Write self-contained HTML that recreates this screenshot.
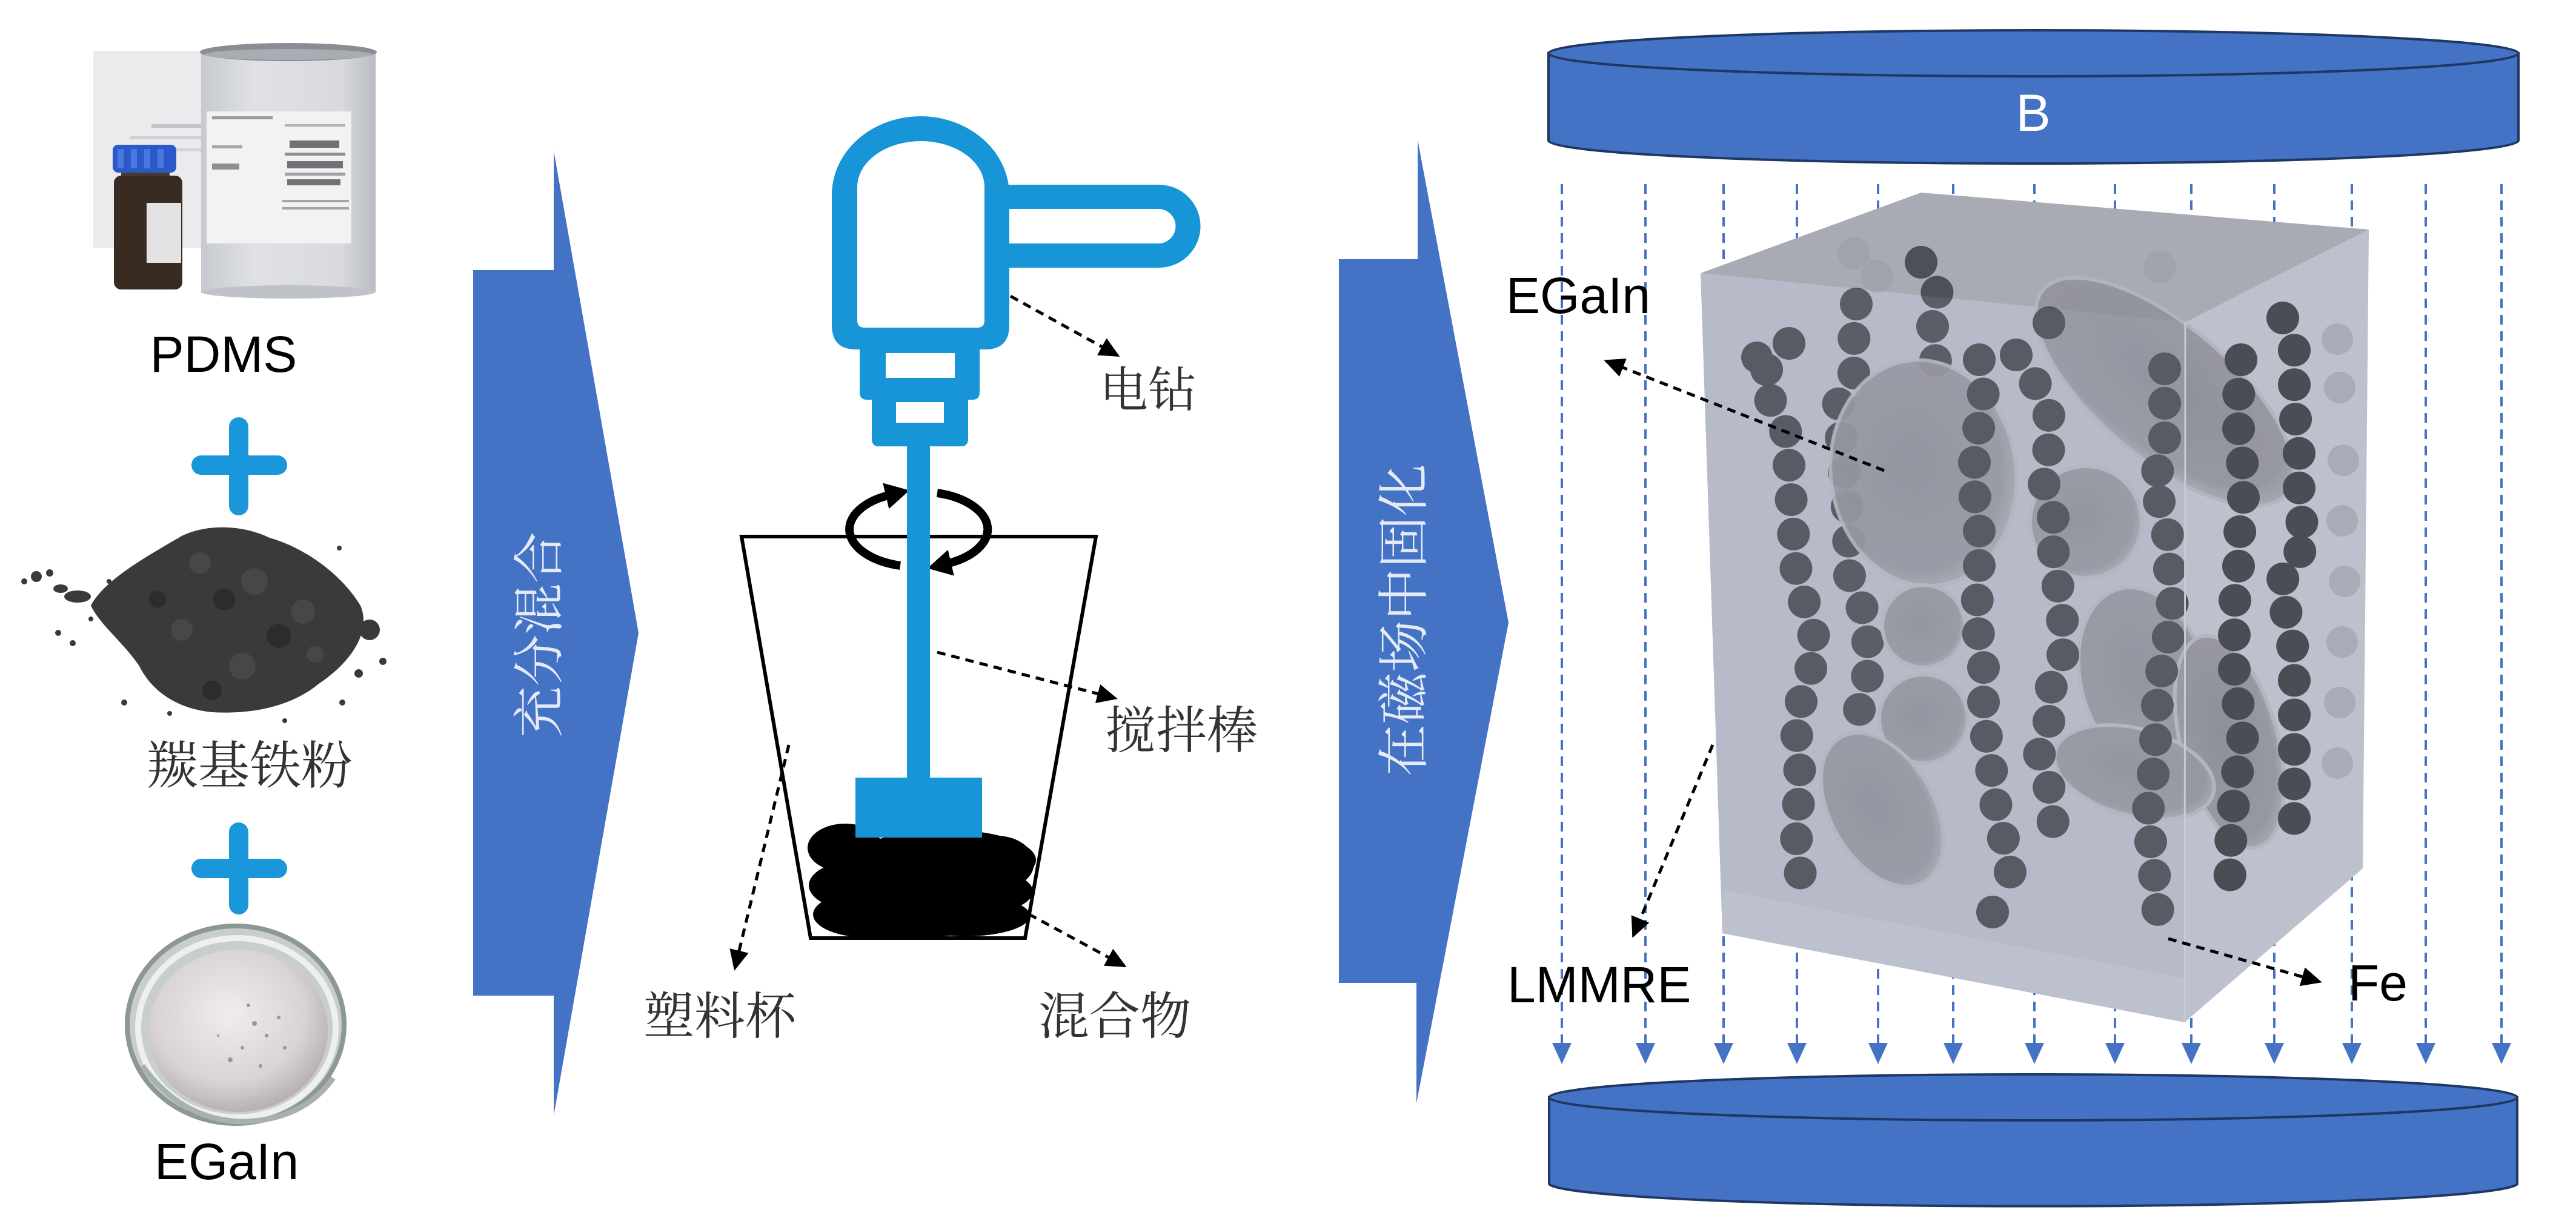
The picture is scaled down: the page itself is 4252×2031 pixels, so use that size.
<!DOCTYPE html>
<html>
<head>
<meta charset="utf-8">
<style>
html,body{margin:0;padding:0;background:#fff;}
svg{display:block;}
</style>
</head>
<body>
<svg xmlns="http://www.w3.org/2000/svg" width="4252" height="2031" viewBox="0 0 4252 2031">
<defs>
  <marker id="ah" markerUnits="userSpaceOnUse" markerWidth="34" markerHeight="32" refX="30" refY="16" orient="auto">
    <path d="M0,0 L34,16 L0,32 Z" fill="#000"/>
  </marker>
  <marker id="rot" markerUnits="userSpaceOnUse" markerWidth="44" markerHeight="44" refX="8" refY="22" orient="auto">
    <path d="M0,0 L40,22 L0,44 Z" fill="#000"/>
  </marker>
  <linearGradient id="canG" x1="0" x2="1" y1="0" y2="0">
    <stop offset="0" stop-color="#c6c9ce"/>
    <stop offset="0.3" stop-color="#dfe1e4"/>
    <stop offset="0.8" stop-color="#d8dadd"/>
    <stop offset="1" stop-color="#b9bcc1"/>
  </linearGradient>
  <radialGradient id="dishG" cx="0.45" cy="0.4" r="0.6">
    <stop offset="0" stop-color="#f1ecef"/>
    <stop offset="0.7" stop-color="#d9d2d6"/>
    <stop offset="1" stop-color="#b7b0b4"/>
  </radialGradient>
  <radialGradient id="elG" cx="0.45" cy="0.45" r="0.6">
    <stop offset="0" stop-color="#8a8c94"/>
    <stop offset="0.8" stop-color="#93959d"/>
    <stop offset="1" stop-color="#adafb7"/>
  </radialGradient>
  <clipPath id="cubeClip">
    <polygon points="2807,451 3171,318 3910,379 3900,1434 3606,1688 2843,1541"/>
  </clipPath>
</defs>

<!-- ================= LEFT PANEL ================= -->
<rect x="154" y="84" width="350" height="325" fill="#ebebed"/>
<rect x="250" y="205" width="90" height="6" fill="#c4c5c8"/>
<rect x="215" y="225" width="125" height="5" fill="#cfd0d3"/>
<rect x="210" y="245" width="130" height="5" fill="#d2d3d6"/>
<rect x="332" y="88" width="288" height="394" fill="url(#canG)"/>
<ellipse cx="476" cy="482" rx="144" ry="11" fill="#bfc2c7"/>
<ellipse cx="476" cy="86" rx="146" ry="15" fill="#8a8e94"/>
<ellipse cx="476" cy="90" rx="138" ry="9" fill="#a9adb3"/>
<rect x="341" y="184" width="239" height="218" fill="#f2f2f3"/>
<rect x="350" y="192" width="100" height="5" fill="#9a9ca0"/>
<rect x="470" y="205" width="100" height="4" fill="#b0b2b6"/>
<rect x="478" y="232" width="82" height="12" fill="#6f7175"/>
<rect x="470" y="252" width="100" height="5" fill="#8e9094"/>
<rect x="474" y="266" width="92" height="12" fill="#6f7175"/>
<rect x="470" y="285" width="100" height="5" fill="#9ea0a4"/>
<rect x="474" y="296" width="88" height="10" fill="#6f7175"/>
<rect x="466" y="330" width="110" height="4" fill="#a3a5a9"/>
<rect x="466" y="342" width="110" height="4" fill="#a3a5a9"/>
<rect x="350" y="240" width="50" height="5" fill="#a3a5a9"/>
<rect x="350" y="270" width="45" height="10" fill="#8d8f93"/>
<rect x="200" y="278" width="80" height="22" fill="#4a3a30"/>
<rect x="188" y="290" width="113" height="188" rx="12" fill="#3a2b22"/>
<rect x="242" y="335" width="57" height="99" fill="#e2e2e2"/>
<rect x="186" y="239" width="105" height="46" rx="9" fill="#2b59c9"/>
<rect x="194" y="246" width="10" height="32" fill="#4a78e0"/>
<rect x="216" y="246" width="10" height="32" fill="#4a78e0"/>
<rect x="238" y="246" width="10" height="32" fill="#4a78e0"/>
<rect x="260" y="246" width="10" height="32" fill="#4a78e0"/>
<text x="369" y="614" font-family="Liberation Sans, Arial, sans-serif" font-size="84" text-anchor="middle" fill="#000">PDMS</text>

<g stroke="#1a96da" stroke-width="32" stroke-linecap="round">
  <line x1="332" y1="768" x2="458" y2="768"/>
  <line x1="394" y1="705" x2="394" y2="835"/>
</g>

<!-- powder -->
<path d="M300 885 C340 865 400 866 445 888 C505 905 565 950 595 1000 C612 1040 585 1090 525 1130 C482 1165 420 1180 350 1176 C290 1170 250 1140 230 1100 C205 1062 165 1032 150 1000 C172 958 240 920 300 885 Z" fill="#3a3a3a"/>
<g fill="#474747">
  <circle cx="330" cy="930" r="18"/><circle cx="420" cy="960" r="22"/><circle cx="500" cy="1010" r="20"/>
  <circle cx="300" cy="1040" r="18"/><circle cx="400" cy="1100" r="22"/><circle cx="520" cy="1080" r="14"/>
</g>
<g fill="#2c2c2c">
  <circle cx="370" cy="990" r="18"/><circle cx="460" cy="1050" r="20"/><circle cx="260" cy="990" r="14"/><circle cx="350" cy="1140" r="16"/>
</g>
<g fill="#3a3a3a">
  <ellipse cx="128" cy="985" rx="22" ry="10"/><ellipse cx="100" cy="972" rx="12" ry="7"/>
  <circle cx="60" cy="952" r="9"/><circle cx="82" cy="946" r="6"/><circle cx="610" cy="1040" r="17"/>
  <circle cx="120" cy="1062" r="5"/><circle cx="592" cy="1112" r="7"/><circle cx="205" cy="1160" r="5"/>
  <circle cx="565" cy="1160" r="5"/><circle cx="150" cy="1022" r="4"/><circle cx="632" cy="1092" r="6"/>
  <circle cx="96" cy="1045" r="5"/><circle cx="280" cy="1178" r="4"/><circle cx="470" cy="1190" r="4"/>
  <circle cx="180" cy="960" r="4"/><circle cx="560" cy="905" r="4"/><circle cx="40" cy="960" r="5"/>
</g>
<text x="412" y="1266" font-family="Liberation Serif, 'Noto Serif CJK SC', serif" font-size="85" text-anchor="middle" dominant-baseline="central" fill="#333">羰基铁粉</text>

<g stroke="#1a96da" stroke-width="32" stroke-linecap="round">
  <line x1="332" y1="1434" x2="458" y2="1434"/>
  <line x1="394" y1="1374" x2="394" y2="1494"/>
</g>

<ellipse cx="389" cy="1692" rx="179" ry="163" fill="#c8cecb" stroke="#8c9893" stroke-width="8"/>
<ellipse cx="391" cy="1697" rx="163" ry="148" fill="none" stroke="#eef0ef" stroke-width="10"/>
<ellipse cx="393" cy="1702" rx="148" ry="134" fill="url(#dishG)"/>
<path d="M235 1760 Q300 1850 400 1852 Q500 1850 550 1780" fill="none" stroke="#a9b1ad" stroke-width="9"/>
<g fill="#8a8486" opacity="0.8">
  <circle cx="420" cy="1690" r="4"/><circle cx="440" cy="1710" r="3"/><circle cx="400" cy="1730" r="3"/>
  <circle cx="460" cy="1680" r="3"/><circle cx="380" cy="1750" r="4"/><circle cx="430" cy="1760" r="3"/>
  <circle cx="470" cy="1730" r="3"/><circle cx="360" cy="1710" r="2"/><circle cx="410" cy="1660" r="3"/>
</g>
<text x="374" y="1947" font-family="Liberation Sans, Arial, sans-serif" font-size="84" text-anchor="middle" fill="#000">EGaIn</text>

<!-- ================= ARROW 1 ================= -->
<polygon points="781,446 914,446 914,249 1054,1045 914,1842 914,1644 781,1644" fill="#4472c4"/>
<text x="892" y="1048" transform="rotate(-90 892 1048)" font-family="Liberation Serif, 'Noto Serif CJK SC', serif" font-size="85" text-anchor="middle" dominant-baseline="central" fill="#e4eaf6">充分混合</text>

<!-- ================= DRILL PANEL ================= -->
<polygon points="1224,886 1809,886 1692,1549 1338,1549" fill="none" stroke="#000" stroke-width="6"/>
<g fill="#000">
  <ellipse cx="1395" cy="1400" rx="62" ry="40"/>
  <ellipse cx="1560" cy="1420" rx="150" ry="50"/>
  <ellipse cx="1645" cy="1425" rx="62" ry="45"/>
  <ellipse cx="1420" cy="1462" rx="85" ry="42"/>
  <ellipse cx="1565" cy="1472" rx="140" ry="45"/>
  <ellipse cx="1432" cy="1510" rx="90" ry="38"/>
  <ellipse cx="1595" cy="1512" rx="105" ry="34"/>
  <ellipse cx="1500" cy="1528" rx="130" ry="20"/>
</g>
<path d="M1486,934 A112,62 0 0 1 1470,817" fill="none" stroke="#000" stroke-width="14" marker-end="url(#rot)"/>
<path d="M1547,814 A112,62 0 0 1 1562,931" fill="none" stroke="#000" stroke-width="14" marker-end="url(#rot)"/>
<g fill="#1795d6">
  <path d="M1373,322 A146.5,130 0 0 1 1666,322 L1666,537 Q1666,577 1626,577 L1413,577 Q1373,577 1373,537 Z"/>
  <path d="M1640,305 L1913,305 A68.5,68.5 0 0 1 1913,442 L1640,442 Z"/>
  <path d="M1419,560 L1617,560 L1617,648 Q1617,660 1605,660 L1431,660 Q1419,660 1419,648 Z"/>
  <path d="M1439,650 L1598,650 L1598,725 Q1598,737 1586,737 L1451,737 Q1439,737 1439,725 Z"/>
  <rect x="1497" y="730" width="38" height="560"/>
  <rect x="1412" y="1284" width="209" height="99"/>
</g>
<g fill="#fff">
  <path d="M1415,309 A105,76 0 0 1 1625,309 L1625,529 Q1625,541 1613,541 L1427,541 Q1415,541 1415,529 Z"/>
  <path d="M1666,345 L1912,345 A28.5,28.5 0 0 1 1912,402 L1666,402 Z"/>
  <rect x="1462" y="583" width="114" height="41"/>
  <rect x="1479" y="664" width="79" height="34"/>
</g>

<g stroke="#000" stroke-width="5" stroke-dasharray="14 10" fill="none" marker-end="url(#ah)">
  <line x1="1668" y1="489" x2="1845" y2="587"/>
  <line x1="1547" y1="1077" x2="1841" y2="1153"/>
  <line x1="1302" y1="1230" x2="1213" y2="1599"/>
  <line x1="1677" y1="1498" x2="1856" y2="1595"/>
</g>
<g font-family="Liberation Serif, 'Noto Serif CJK SC', serif" font-size="84" text-anchor="middle" dominant-baseline="central" fill="#333">
  <text x="1895" y="646" font-size="80">电钻</text>
  <text x="1950" y="1208">搅拌棒</text>
  <text x="1188" y="1680">塑料杯</text>
  <text x="1840" y="1680">混合物</text>
</g>

<!-- ================= ARROW 2 ================= -->
<polygon points="2210,428 2340,428 2340,231 2490,1028 2338,1822 2338,1623 2210,1623" fill="#4472c4"/>
<text x="2318" y="1024" transform="rotate(-90 2318 1024)" font-family="Liberation Serif, 'Noto Serif CJK SC', serif" font-size="86" text-anchor="middle" dominant-baseline="central" fill="#e4eaf6">在磁场中固化</text>

<!-- ================= RIGHT PANEL ================= -->
<path d="M2556,88 L2556,232 A800.5,38 0 0 0 4157,232 L4157,88 Z" fill="#4472c4" stroke="#1f3763" stroke-width="4"/>
<ellipse cx="3356.5" cy="88" rx="800.5" ry="38" fill="#4472c4" stroke="#1f3763" stroke-width="4"/>
<text x="3356" y="216" font-family="Liberation Sans, Arial, sans-serif" font-size="86" text-anchor="middle" fill="#fff">B</text>

<g stroke="#4472c4" stroke-width="4" stroke-dasharray="16 11">
  <line x1="2578" y1="304" x2="2578" y2="1724"/>
  <line x1="2716" y1="304" x2="2716" y2="1724"/>
  <line x1="2845" y1="304" x2="2845" y2="1724"/>
  <line x1="2966" y1="304" x2="2966" y2="1724"/>
  <line x1="3100" y1="304" x2="3100" y2="1724"/>
  <line x1="3224" y1="304" x2="3224" y2="1724"/>
  <line x1="3358" y1="304" x2="3358" y2="1724"/>
  <line x1="3491" y1="304" x2="3491" y2="1724"/>
  <line x1="3617" y1="304" x2="3617" y2="1724"/>
  <line x1="3754" y1="304" x2="3754" y2="1724"/>
  <line x1="3882" y1="304" x2="3882" y2="1724"/>
  <line x1="4004" y1="304" x2="4004" y2="1724"/>
  <line x1="4129" y1="304" x2="4129" y2="1724"/>
</g>
<g fill="#4472c4">
  <polygon points="2562,1722 2594,1722 2578,1757"/>
  <polygon points="2700,1722 2732,1722 2716,1757"/>
  <polygon points="2829,1722 2861,1722 2845,1757"/>
  <polygon points="2950,1722 2982,1722 2966,1757"/>
  <polygon points="3084,1722 3116,1722 3100,1757"/>
  <polygon points="3208,1722 3240,1722 3224,1757"/>
  <polygon points="3342,1722 3374,1722 3358,1757"/>
  <polygon points="3475,1722 3507,1722 3491,1757"/>
  <polygon points="3601,1722 3633,1722 3617,1757"/>
  <polygon points="3738,1722 3770,1722 3754,1757"/>
  <polygon points="3866,1722 3898,1722 3882,1757"/>
  <polygon points="3988,1722 4020,1722 4004,1757"/>
  <polygon points="4113,1722 4145,1722 4129,1757"/>
</g>

<polygon points="2807,451 3607,532 3606,1688 2843,1541" fill="#b6b9c8"/>
<polygon points="3607,532 3910,379 3900,1434 3606,1688" fill="#bdc0cd"/>
<polygon points="2807,451 3171,318 3910,379 3607,532" fill="#a9abb4"/>
<polygon points="2843,1470 3606,1615 3606,1688 2843,1541" fill="#c3c5d0" opacity="0.6"/>
<g clip-path="url(#cubeClip)">
  <g fill="#9c9ea8" opacity="0.6">
    <circle cx="3060" cy="418" r="27"/><circle cx="3098" cy="456" r="27"/><circle cx="3565" cy="441" r="27"/>
    <circle cx="3858" cy="560" r="26"/><circle cx="3862" cy="640" r="26"/><circle cx="3868" cy="760" r="26"/>
    <circle cx="3866" cy="860" r="26"/><circle cx="3870" cy="960" r="26"/><circle cx="3866" cy="1060" r="26"/>
    <circle cx="3862" cy="1160" r="26"/><circle cx="3858" cy="1260" r="26"/>
  </g>
  <g fill="none" stroke="#4e5057" stroke-width="54" stroke-linecap="round" stroke-dasharray="0 57">
    <path d="M3064,502 L3060,563 L3060,617 L3033,670 L3040,730 L3045,790 L3050,850 L3053,953 L3075,1007 L3083,1061 L3083,1114 L3068,1168 L3083,1214"/>
    <path d="M3171,433 L3198,479 L3190,529 L3190,578 L3205,632"/>
  </g>
  <g fill="url(#elG)" stroke="#b3b5bd" stroke-width="6" opacity="0.92">
    <ellipse cx="3175" cy="781" rx="153" ry="187" transform="rotate(-8 3175 781)"/>
    <ellipse cx="3573" cy="647" rx="262" ry="110" transform="rotate(40 3573 647)"/>
    <circle cx="3443" cy="862" r="92"/>
    <circle cx="3175" cy="1034" r="68"/>
    <circle cx="3175" cy="1187" r="73"/>
    <ellipse cx="3107" cy="1337" rx="85" ry="138" transform="rotate(-30 3107 1337)"/>
    <ellipse cx="3538" cy="1122" rx="103" ry="155" transform="rotate(-15 3538 1122)"/>
    <ellipse cx="3680" cy="1225" rx="80" ry="180" transform="rotate(-15 3680 1225)"/>
    <ellipse cx="3523" cy="1275" rx="135" ry="72" transform="rotate(15 3523 1275)"/>
  </g>
  <g fill="none" stroke="#4b4d54" stroke-width="54" stroke-linecap="round" stroke-dasharray="0 57">
    <path d="M2953,567 L2907,621 L2926,670 L2953,724 L2953,777 L2957,831 L2961,892 L2965,946 L2984,1015 L2999,1068 L2984,1122 L2968,1175 L2965,1229 L2972,1282 L2968,1336 L2965,1390 L2974,1460"/>
    <path d="M3267,594 L3274,647 L3267,701 L3259,754 L3259,816 L3267,862 L3267,915 L3267,969 L3259,1022 L3274,1076 L3274,1129 L3274,1183 L3282,1237 L3290,1290 L3297,1351 L3313,1405 L3318,1440"/>
    <path d="M3328,586 L3359,632 L3382,686 L3382,739 L3374,800 L3389,854 L3389,908 L3397,969 L3405,1030 L3405,1084 L3382,1145 L3382,1198 L3366,1244 L3382,1298 L3389,1359 L3382,1413"/>
    <path d="M3573,609 L3573,663 L3573,709 L3573,754 L3550,800 L3573,846 L3581,908 L3581,961 L3588,1015 L3573,1076 L3565,1129 L3558,1191 L3558,1252 L3550,1306 L3542,1367 L3558,1413 L3555,1470 L3571,1546"/>
    <path d="M3699,594 L3695,655 L3695,716 L3703,777 L3703,839 L3695,892 L3695,946 L3688,999 L3688,1053 L3688,1106 L3695,1168 L3703,1229 L3690,1290 L3685,1350 L3680,1420 L3682,1480"/>
    <path d="M3768,525 L3787,571 L3787,624 L3787,678 L3795,732 L3795,785 L3795,846 L3810,900 L3772,930 L3764,984 L3780,1030 L3787,1091 L3787,1145 L3787,1198 L3787,1252 L3787,1313 L3787,1374"/>
  </g>
  <g fill="#4b4d54">
    <circle cx="3289" cy="1506" r="27"/>
    <circle cx="3382" cy="533" r="27"/>
    <circle cx="2900" cy="590" r="26"/>
  </g>
  <polygon points="2807,451 3607,532 3606,1688 2843,1541" fill="#c0c3d2" opacity="0.12"/>
</g>
<line x1="3607" y1="532" x2="3606" y2="1688" stroke="#c8cad4" stroke-width="3"/>

<g stroke="#000" stroke-width="5" stroke-dasharray="14 10" fill="none" marker-end="url(#ah)">
  <line x1="3110" y1="777" x2="2651" y2="596"/>
  <line x1="2827" y1="1230" x2="2696" y2="1545"/>
  <line x1="3579" y1="1550" x2="3829" y2="1621"/>
</g>
<g font-family="Liberation Sans, Arial, sans-serif" font-size="84" fill="#000">
  <text x="2486" y="517">EGaIn</text>
  <text x="2488" y="1655">LMMRE</text>
  <text x="3876" y="1652">Fe</text>
</g>

<path d="M2557,1812 L2557,1955 A799.5,38 0 0 0 4155,1955 L4155,1812 Z" fill="#4472c4" stroke="#1f3763" stroke-width="4"/>
<ellipse cx="3356" cy="1812" rx="799" ry="38" fill="#4472c4" stroke="#1f3763" stroke-width="4"/>
</svg>
</body>
</html>
